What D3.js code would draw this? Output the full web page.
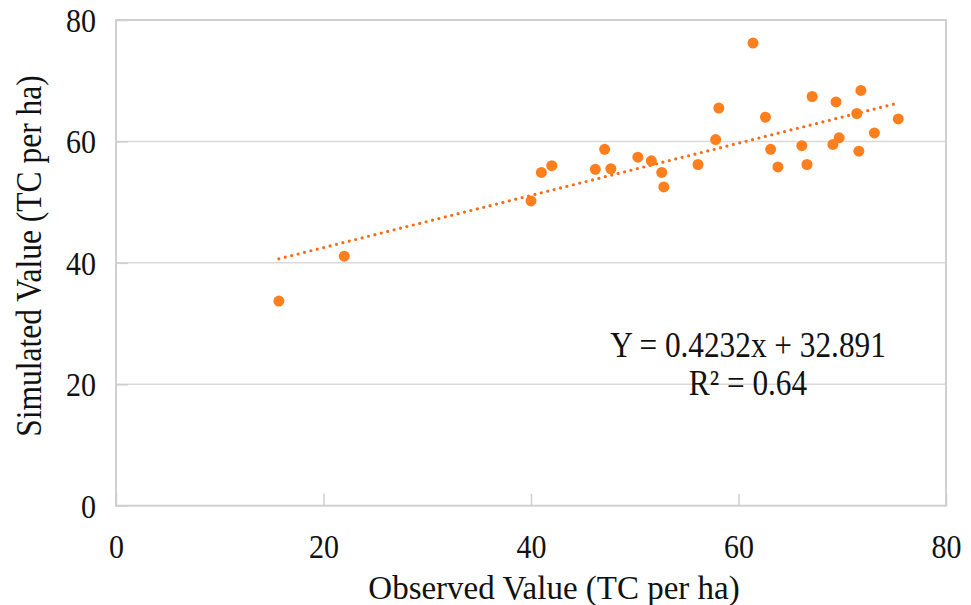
<!DOCTYPE html>
<html>
<head>
<meta charset="utf-8">
<script src="https://cdn.jsdelivr.net/npm/d3@7"></script>
<style>
  body { margin: 0; background: #fff; }
  svg text { font-family: "Liberation Serif", "Times New Roman", Times, serif; fill: #111; }
</style>
</head>
<body>
<svg></svg>
<script>
width = 971;
height = 605;

// observed (x) and simulated (y) values, TC per ha
observed = [15.7, 22.0, 40.0, 41.0, 42.0, 46.2, 47.1, 47.7, 50.3, 51.6,
  52.6, 52.8, 56.1, 57.8, 58.1, 61.4, 62.6, 63.1, 63.8, 66.1,
  66.6, 67.1, 69.1, 69.4, 69.7, 71.4, 71.6, 71.8, 73.1, 75.4];
simulated = [33.7, 41.1, 50.2, 54.9, 56.0, 55.4, 58.7, 55.5, 57.4, 56.8,
  54.9, 52.5, 56.2, 60.3, 65.5, 76.2, 64.0, 58.7, 55.8, 59.3,
  56.2, 67.4, 59.5, 66.5, 60.6, 64.6, 58.4, 68.4, 61.4, 63.7];
xTicks = [0, 20, 40, 60, 80];
yTicks = [0, 20, 40, 60, 80];
equationText = 'Y = 0.4232x + 32.891';
r2Label = 'R² = 0.64';
xTitle = 'Observed Value (TC per ha)';
yTitle = 'Simulated Value (TC per ha)';

orange = '#ff7f1e';
trendColor = '#ff6a10';
gridColor = '#d9d9d9';
serif = '"Liberation Serif", "Times New Roman", Times, serif';
stretch = 1.13;

svg = d3.select('svg')
  .attr('width', width)
  .attr('height', height)
  .attr('font-family', serif);

x = d3.scaleLinear().domain([0, 80]).range([116, 946]);
y = d3.scaleLinear().domain([0, 80]).range([505.7, 20]);

// horizontal gridlines
svg.selectAll('.grid')
  .data(yTicks.slice(1, -1))
  .enter().append('line')
  .attr('x1', x(0)).attr('x2', x(80))
  .attr('y1', d => y(d)).attr('y2', d => y(d))
  .attr('stroke', gridColor)
  .attr('stroke-width', 1.5);

// frame
svg.append('rect')
  .attr('x', x(0)).attr('y', y(80))
  .attr('width', x(80) - x(0)).attr('height', y(0) - y(80))
  .attr('fill', 'none')
  .attr('stroke', '#d0d0d0')
  .attr('stroke-width', 2);

// x axis
xAxis = svg.append('g')
  .attr('transform', `translate(0,${y(0)})`)
  .call(d3.axisBottom(x).tickValues(xTicks).tickSize(-12).tickFormat(d3.format('d')))
  .attr('font-family', serif);
xAxis.select('.domain').remove();
xAxis.selectAll('line').attr('stroke', '#cfcfcf').attr('stroke-width', 1.5);
xAxis.selectAll('text')
  .attr('y', null).attr('dy', null)
  .attr('transform', `translate(0,52.5) scale(1,${stretch})`)
  .attr('font-family', serif)
  .attr('font-size', 30)
  .attr('fill', '#111');

// y axis
yAxis = svg.append('g')
  .attr('transform', `translate(${x(0)},0)`)
  .call(d3.axisLeft(y).tickValues(yTicks).tickSize(-12).tickFormat(d3.format('d')))
  .attr('font-family', serif);
yAxis.select('.domain').remove();
yAxis.selectAll('line').attr('stroke', '#cfcfcf').attr('stroke-width', 1.5);
yAxis.selectAll('text')
  .attr('x', null).attr('dy', null)
  .attr('text-anchor', 'end')
  .attr('transform', `translate(-20,11.5) scale(1,${stretch})`)
  .attr('font-family', serif)
  .attr('font-size', 30)
  .attr('fill', '#111');

// least squares trendline over the observed range
mx = d3.mean(observed);
my = d3.mean(simulated);
slope = d3.sum(observed, (v, i) => (v - mx) * (simulated[i] - my)) /
  d3.sum(observed, v => (v - mx) * (v - mx));
intercept = my - slope * mx;
ext = d3.extent(observed);

svg.append('line')
  .attr('x1', x(ext[0])).attr('y1', y(slope * ext[0] + intercept))
  .attr('x2', x(ext[1])).attr('y2', y(slope * ext[1] + intercept))
  .attr('stroke', trendColor)
  .attr('stroke-width', 3.2)
  .attr('stroke-linecap', 'round')
  .attr('stroke-dasharray', '0,6.6');

// points
svg.selectAll('circle')
  .data(observed.map((v, i) => ({ x: v, y: simulated[i] })))
  .enter().append('circle')
  .attr('cx', d => x(d.x))
  .attr('cy', d => y(d.y))
  .attr('r', 5.5)
  .attr('fill', orange);

// equation
svg.append('text')
  .attr('text-anchor', 'middle')
  .attr('transform', `translate(748,356.5) scale(1,${stretch})`)
  .attr('font-size', 31.3)
  .text(equationText);
svg.append('text')
  .attr('text-anchor', 'middle')
  .attr('transform', `translate(748,395) scale(1,${stretch})`)
  .attr('font-size', 31.3)
  .text(r2Label);

// axis titles
svg.append('text')
  .attr('text-anchor', 'middle')
  .attr('transform', `translate(554,599) scale(1,1.02)`)
  .attr('font-size', 33)
  .text(xTitle);
svg.append('text')
  .attr('text-anchor', 'middle')
  .attr('transform', `translate(41,256) rotate(-90) scale(1,${stretch})`)
  .attr('font-size', 31.5)
  .text(yTitle);
</script>
</body>
</html>
